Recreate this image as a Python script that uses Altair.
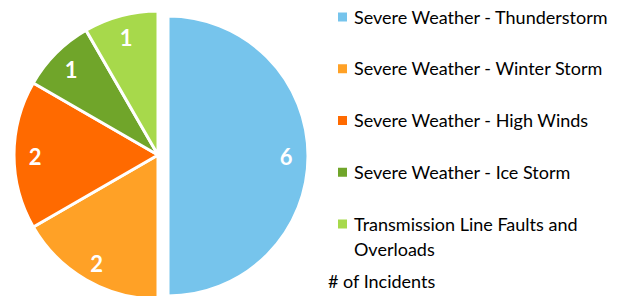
import altair as alt
import pandas as pd

categories = [
    "Severe Weather - Thunderstorm",
    "Severe Weather - Winter Storm",
    "Severe Weather - High Winds",
    "Severe Weather - Ice Storm",
    "Transmission Line Faults and Overloads",
]
legend_labels = [
    "Severe Weather - Thunderstorm",
    "Severe Weather - Winter Storm",
    "Severe Weather - High Winds",
    "Severe Weather - Ice Storm",
    "Transmission Line Faults and\nOverloads",
]
counts = [6, 2, 2, 1, 1]
colors = ["#76C4EC", "#FFA126", "#FF6A00", "#70A52A", "#A7D94B"]
exploded = [1, 0, 0, 0, 0]
legend_title = "# of Incidents"

df = pd.DataFrame({
    "category": categories,
    "label": legend_labels,
    "count": counts,
    "idx": list(range(len(categories))),
    "exploded": exploded,
})

FONT = "Lato"

color = alt.Color(
    "category:N",
    sort=categories,
    scale=alt.Scale(domain=categories, range=colors),
    legend=None,
)

base = alt.Chart(df).encode(
    theta=alt.Theta("count:Q", stack=True),
    order=alt.Order("idx:Q"),
)

cx, cy, r = 150, 147, 144
ex, ey, er = 160, 148, 140

main_arc = base.mark_arc(radius=r, x=cx, y=cy, stroke="white", strokeWidth=3).encode(
    color=color,
    opacity=alt.condition("datum.exploded == 1", alt.value(0), alt.value(1)),
)
exp_arc = base.mark_arc(radius=er, x=ex, y=ey, stroke="white", strokeWidth=3).encode(
    color=color,
    opacity=alt.condition("datum.exploded == 1", alt.value(1), alt.value(0)),
)
main_txt = base.mark_text(radius=123, x=cx, y=cy, dy=3, font=FONT, fontSize=22, fontWeight="bold", color="white").encode(
    text="count:Q",
    opacity=alt.condition("datum.exploded == 1", alt.value(0), alt.value(1)),
)
exp_txt = base.mark_text(radius=118, x=ex, y=ey, dy=2, font=FONT, fontSize=22, fontWeight="bold", color="white").encode(
    text="count:Q",
    opacity=alt.condition("datum.exploded == 1", alt.value(1), alt.value(0)),
)

# Manual legend
leg_y = alt.Y(
    "category:N",
    sort=categories,
    scale=alt.Scale(type="point", domain=categories, range=[9, 216], padding=0),
    axis=None,
)
leg_sym = alt.Chart(df).mark_square(size=81, x=334.5, opacity=1).encode(
    y=leg_y,
    color=color,
)
leg_txt = alt.Chart(df).mark_text(
    x=346, align="left", baseline="alphabetic", dy=6.5, font=FONT, fontSize=18,
    color="#000000", lineBreak="\n", lineHeight=25,
).encode(
    y=leg_y,
    text="label:N",
)
leg_title = alt.Chart(df).mark_text(
    align="left", baseline="middle", font=FONT, fontSize=18, color="#000000",
).encode(
    x=alt.value(320),
    y=alt.value(275),
    text=alt.value(legend_title),
).transform_filter("datum.idx == 0")

chart = alt.layer(main_arc, exp_arc, main_txt, exp_txt, leg_sym, leg_txt, leg_title).properties(
    width=612,
    height=288,
    padding=0,
    autosize=alt.AutoSizeParams(type="none"),
).configure_view(stroke=None)

chart.save("out.html", embed_options={"renderer": "svg", "actions": False})
